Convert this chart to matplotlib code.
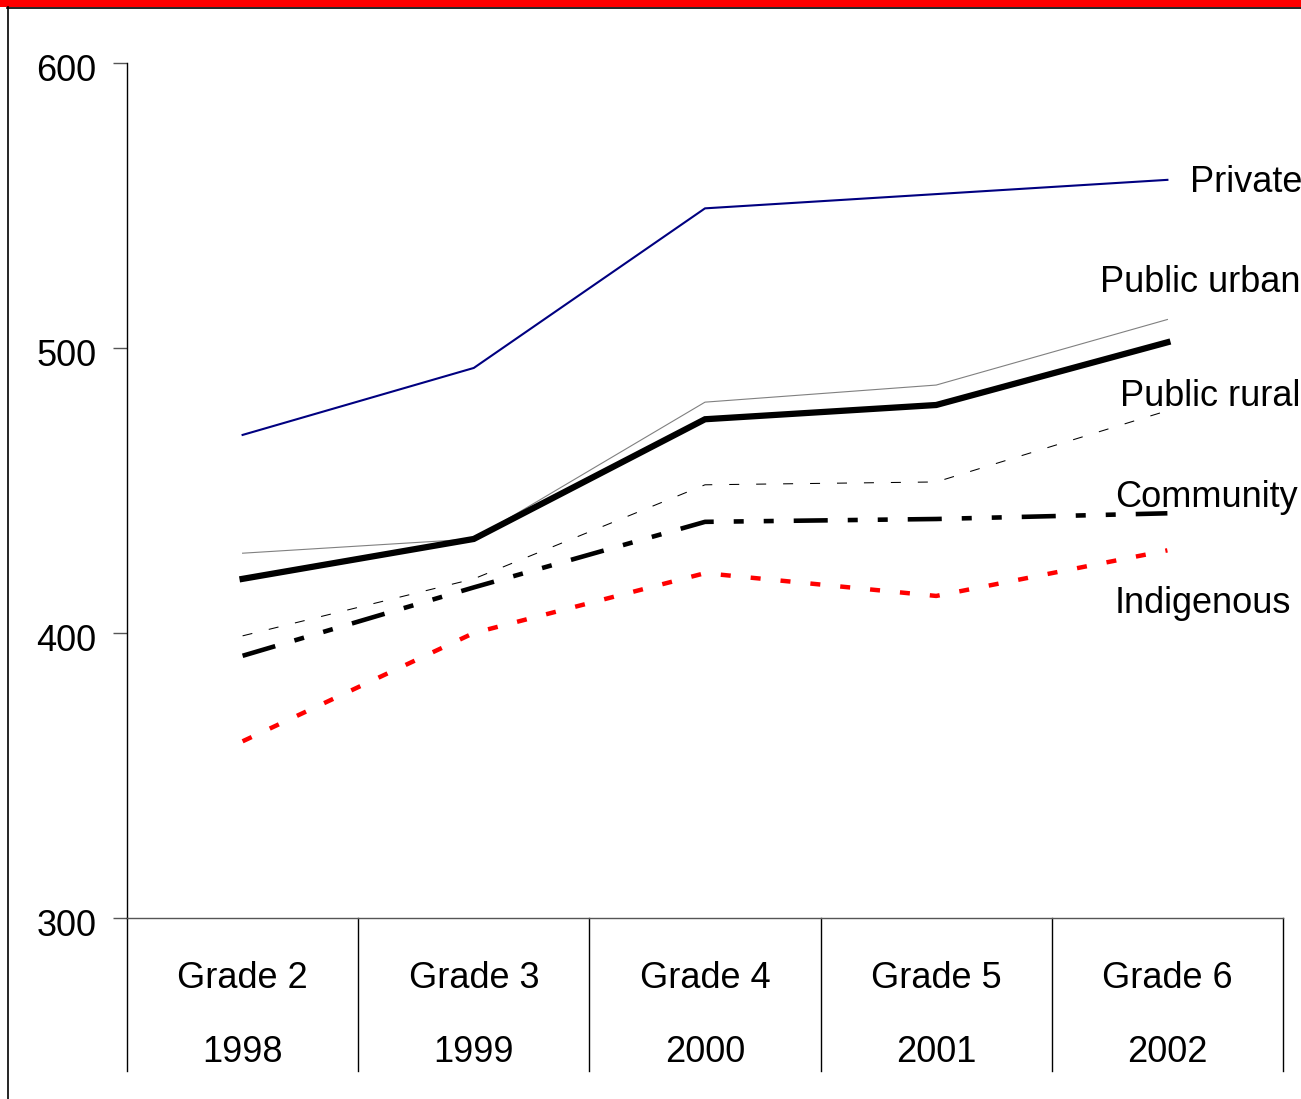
import matplotlib
matplotlib.use("Agg")
import matplotlib.pyplot as plt
from matplotlib.lines import Line2D
from matplotlib.patches import Rectangle
from matplotlib.transforms import ScaledTranslation

plt.rcParams['font.family'] = ['Liberation Sans', 'DejaVu Sans']
plt.rcParams['lines.scale_dashes'] = False

# Data
grades = ["Grade 2", "Grade 3", "Grade 4", "Grade 5", "Grade 6"]
years = ["1998", "1999", "2000", "2001", "2002"]
private = [469.5, 493, 549, 554, 559]
public_urban = [428, 433, 481, 487, 510]
overall = [419, 433, 475, 480, 502]
public_rural = [399, 419, 452, 453, 478]
community = [392, 416, 439, 440, 442]
indigenous = [362, 400, 421, 413, 429]
y_ticks = [300, 400, 500, 600]

FS = 26
W, H = 1301, 1099
fig = plt.figure(figsize=(W / 100, H / 100), dpi=100)
fig.patch.set_facecolor("white")

# Frame decoration: red banner on top, thin black rules
fig.add_artist(Rectangle((0, 1 - 7 / H), 1, 7 / H, transform=fig.transFigure,
                         facecolor="#ff0000", edgecolor="none"))
fig.add_artist(Line2D([7 / W, 1], [1 - 7.5 / H, 1 - 7.5 / H], transform=fig.transFigure,
                      color="black", lw=1.2))
fig.add_artist(Line2D([7.5 / W, 7.5 / W], [0, 1 - 7 / H], transform=fig.transFigure,
                      color="black", lw=1.2))

left, right, top, bottom = 127, 1283, 63, 918
ax = fig.add_axes([left / W, 1 - bottom / H, (right - left) / W, (bottom - top) / H])

x = [i + 0.5 for i in range(len(grades))]

ax.plot(x, private, color="#000080", lw=1.5)
ax.plot(x, public_urban, color="#808080", lw=0.8)
ax.plot(x, overall, color="black", lw=4.5, solid_joinstyle="miter")
ax.plot(x, public_rural, color="black", lw=0.75, linestyle=(0, (7.2, 12.2)))
ax.plot(x, community, color="black", lw=3.3,
        linestyle=(0, (24.5, 14.4, 7.2, 14.4, 7.2, 14.4)), dash_capstyle="butt")
ax.plot(x, indigenous, color="#ff0000", lw=3.2, linestyle=(0, (7.2, 14.4)),
        dash_capstyle="butt")

ax.set_xlim(0, 5)
ax.set_ylim(300, 600)

for s in ("top", "right"):
    ax.spines[s].set_visible(False)
ax.spines["left"].set_color("black")
ax.spines["left"].set_linewidth(1.0)
ax.spines["bottom"].set_color("#555555")
ax.spines["bottom"].set_linewidth(1.0)

ax.set_yticks(y_ticks)
ax.set_yticklabels([str(v) for v in y_ticks], fontsize=FS)
ax.tick_params(axis="y", direction="out", length=10, width=1.0, color="#555555", pad=12)
down = ScaledTranslation(0, -3 / 72, fig.dpi_scale_trans)
for lbl in ax.get_yticklabels():
    lbl.set_transform(lbl.get_transform() + down)
ax.set_xticks([])

# Category separators below the axis
xt = ax.get_xaxis_transform()
sep_depth = (1071 - bottom) / (bottom - top)
for i in range(len(grades) + 1):
    ax.add_line(Line2D([i, i], [0, -sep_depth], transform=xt, color="black",
                       lw=1.0, clip_on=False))

for xi, g, yr in zip(x, grades, years):
    ax.text(xi, -(978 - bottom) / (bottom - top), g, transform=xt, ha="center",
            va="center", fontsize=FS)
    ax.text(xi, -(1053 - bottom) / (bottom - top), yr, transform=xt, ha="center",
            va="center", fontsize=FS)

# Series labels
labels = [("Private", 4.598, 558.0),
          ("Public urban", 4.208, 523.0),
          ("Public rural", 4.295, 483.0),
          ("Community", 4.273, 447.5),
          ("Indigenous", 4.273, 410.5)]
for text, lx, ly in labels:
    ax.text(lx, ly, text, ha="left", va="center", fontsize=FS, clip_on=False)

fig.savefig("out.png", dpi=100, facecolor="white")
